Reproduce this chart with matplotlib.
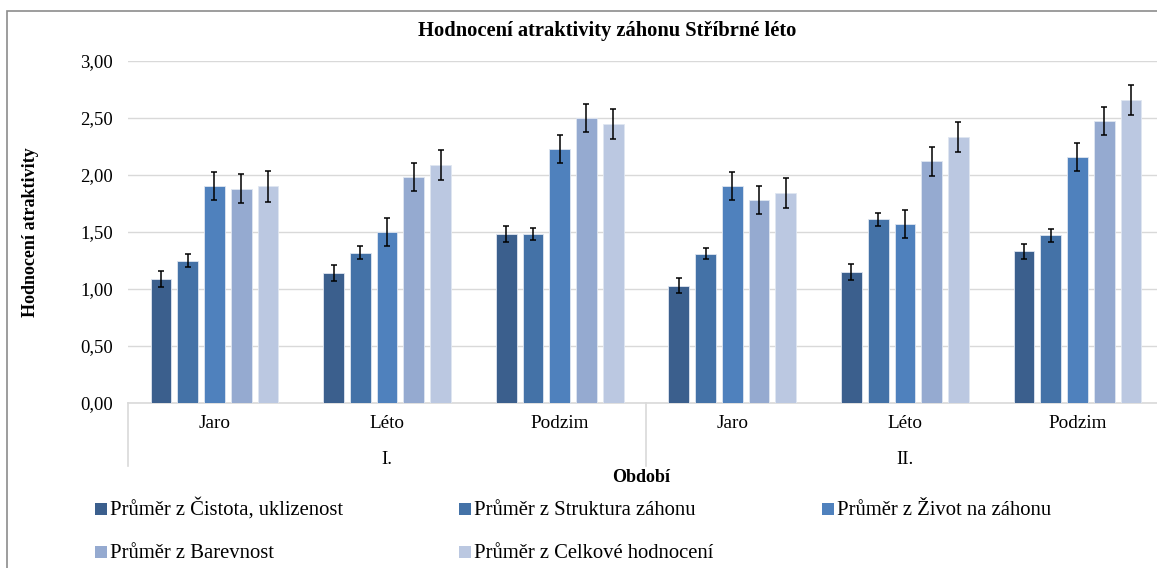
import numpy as np
import matplotlib.pyplot as plt
from matplotlib.patches import Rectangle
from matplotlib.lines import Line2D
from matplotlib.ticker import FuncFormatter, MultipleLocator
import matplotlib.transforms as mtransforms

plt.rcParams['font.family'] = ['Liberation Serif', 'DejaVu Serif']

# --- data ---
seasons = ["Jaro", "Léto", "Podzim", "Jaro", "Léto", "Podzim"]
periods = ["I.", "II."]
series_names = [
    "Průměr z Čistota, uklizenost",
    "Průměr z Struktura záhonu",
    "Průměr z Život na záhonu",
    "Průměr z Barevnost",
    "Průměr z Celkové hodnocení",
]
cistota = [1.09, 1.14, 1.48, 1.03, 1.15, 1.33]
struktura = [1.25, 1.32, 1.48, 1.31, 1.61, 1.47]
zivot = [1.90, 1.50, 2.23, 1.90, 1.57, 2.16]
barevnost = [1.88, 1.98, 2.50, 1.78, 2.12, 2.47]
celkove = [1.90, 2.09, 2.45, 1.84, 2.33, 2.66]

err_cistota = [0.07, 0.07, 0.07, 0.065, 0.067, 0.067]
err_struktura = [0.06, 0.057, 0.052, 0.051, 0.055, 0.054]
err_zivot = [0.122, 0.123, 0.122, 0.122, 0.122, 0.122]
err_barevnost = [0.126, 0.124, 0.126, 0.124, 0.125, 0.123]
err_celkove = [0.133, 0.133, 0.132, 0.132, 0.132, 0.132]

values = [cistota, struktura, zivot, barevnost, celkove]
errors = [err_cistota, err_struktura, err_zivot, err_barevnost, err_celkove]
colors = ["#3b5f8d", "#4472a7", "#4f81bd", "#95aad0", "#bbc8e1"]

W, H = 1157, 568
fig = plt.figure(figsize=(W / 100, H / 100), dpi=100)

# chart frame (Excel chart area border)
fig.patches.append(Rectangle((7 / W, -0.1), 1.2, 1.1 - 11 / H,
                             transform=fig.transFigure, fill=False,
                             edgecolor="#8c8c8c", linewidth=1.2))

left, right, top, bottom = 128.2, 1163.8, 61, 403
ax = fig.add_axes([left / W, 1 - bottom / H, (right - left) / W, (bottom - top) / H])

x = np.arange(len(seasons)) + 0.5
width = 0.12
step = 0.155
for i, (vals, errs) in enumerate(zip(values, errors)):
    ax.bar(x + (i - 2) * step, vals, width, color=colors[i], edgecolor="#dfe6f1",
           linewidth=0.6, yerr=errs, capsize=2.3,
           error_kw=dict(elinewidth=1.1, capthick=1.1, ecolor="black"), zorder=3)

ax.set_xlim(0, 6)
ax.set_ylim(0, 3)
ax.yaxis.set_major_locator(MultipleLocator(0.5))
ax.yaxis.set_major_formatter(FuncFormatter(lambda v, p: f"{v:.2f}".replace(".", ",")))
ax.grid(axis="y", color="#d9d9d9", linewidth=1, zorder=0)
for s in ["left", "right", "top"]:
    ax.spines[s].set_visible(False)
ax.spines["bottom"].set_color("#d9d9d9")
ax.spines["bottom"].set_linewidth(1.2)
ax.tick_params(axis="y", length=0, pad=10.8, labelsize=13.4)
ax.set_xticks([])

# multi-level category axis
blend = mtransforms.blended_transform_factory(ax.transData, fig.transFigure)
for xi, lab in zip(x, seasons):
    ax.text(xi, 1 - 423 / H, lab, transform=blend, ha="center", va="center", fontsize=13.8)
for k, lab in enumerate(periods):
    ax.text(1.5 + 3 * k, 1 - 460 / H, lab, transform=blend, ha="center", va="center", fontsize=13.8)
for xs in [0, 3]:
    fig.lines.append(Line2D([xs, xs], [1 - 403 / H, 1 - 466 / H], transform=blend,
                            color="#d9d9d9", linewidth=1.2))

fig.text(641 / W, 1 - 482 / H, "Období", ha="center", va="baseline", fontsize=13, fontweight="bold")
fig.text(31 / W, 1 - 232 / H, "Hodnocení atraktivity", ha="center", va="center",
         rotation=90, fontsize=13, fontweight="bold")
fig.text(607 / W, 1 - 31 / H, "Hodnocení atraktivity záhonu Stříbrné léto", ha="center",
         va="center", fontsize=14.8, fontweight="bold")

# legend, three columns
col_x = [95, 459, 822]
row_y = [515, 558]
for i, name in enumerate(series_names):
    cx = col_x[i % 3]
    cy = row_y[i // 3]
    fig.patches.append(Rectangle((cx / W, 1 - cy / H), 12 / W, 12 / H,
                                 transform=fig.transFigure, facecolor=colors[i], edgecolor="none"))
    fig.text((cx + 15) / W, 1 - cy / H, name, ha="left", va="baseline", fontsize=14.9)

fig.savefig("out.png", dpi=100)
